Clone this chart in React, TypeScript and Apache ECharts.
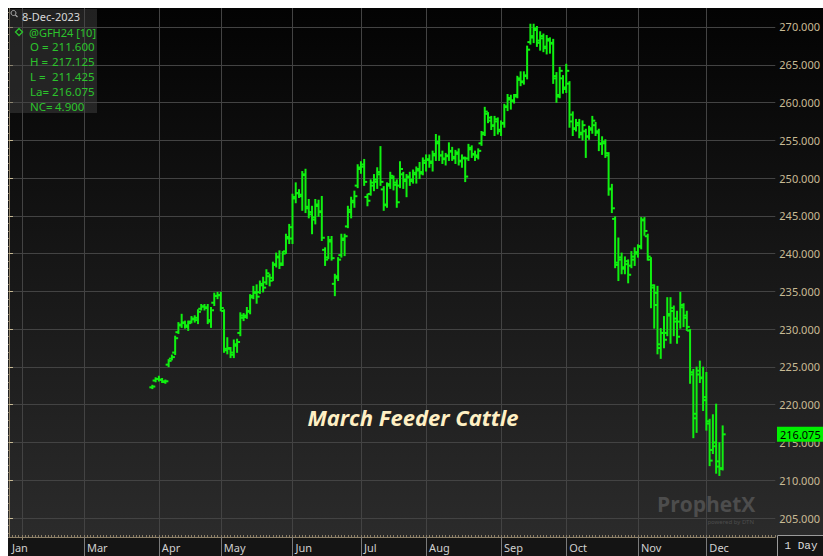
import React, { useEffect, useRef } from 'react';
import * as echarts from 'echarts';

// ---- data: daily OHLC bars (slot index = trading-day position on the axis) ----
const startIndex = 44;
const opens = [
  222.3, 223.2, 223.4, 223.3, 223.0, 225.3, 226.1, 226.9, 229.6, 230.6,
  230.9, 230.3, 231.0, 231.3, 231.2, 232.7, 233.0, 232.8, 231.0, 233.5,
  234.4, 234.5, 232.4, 227.2, 227.4, 226.6, 227.8, 229.5, 231.5, 231.8,
  232.3, 234.4, 234.8, 234.9, 235.8, 236.2, 237.0, 236.8, 238.6, 239.5,
  238.7, 240.3, 242.0, 242.0, 247.3, 248.0, 247.6, 250.4, 246.2, 245.5,
  244.5, 246.3, 245.5, 240.5, 239.5, 241.6, 236.0, 237.0, 239.8, 241.8,
  243.6, 245.5, 246.8, 249.0, 251.2, 251.8, 247.5, 247.9, 249.0, 249.5,
  250.5, 248.5, 246.5, 249.2, 250.0, 249.4, 249.0, 250.5, 249.8, 250.2,
  249.6, 250.5, 251.2, 250.8, 252.0, 252.5, 252.2, 253.0, 254.8, 253.0,
  252.5, 253.0, 253.6, 252.6, 253.2, 252.3, 252.6, 252.6, 253.8, 253.1,
  252.8, 254.6, 256.0, 258.5, 257.6, 257.0, 257.5, 256.2, 257.3, 259.5,
  260.4, 260.3, 261.0, 263.2, 262.7, 263.6, 268.0, 268.8, 269.6, 268.2,
  268.5, 267.4, 268.2, 267.8, 263.5, 261.0, 263.2, 262.0, 262.5, 258.4,
  256.6, 257.0, 256.0, 256.2, 255.5, 256.6, 257.0, 256.2, 254.5, 254.6,
  253.0, 248.5, 244.6, 238.5, 239.5, 238.0, 238.6, 238.4, 239.2, 240.0,
  241.0, 244.4, 242.3, 239.2, 235.5, 234.8, 228.0, 229.5, 229.5, 232.0,
  232.4, 231.4, 231.0, 232.9, 231.5, 229.8, 224.3, 218.8, 224.5, 223.6,
  221.0, 217.8, 214.0, 215.0, 212.5, 211.6,
];
const highs = [
  222.5, 223.5, 223.7, 223.4, 223.2, 225.9, 226.5, 229.0, 230.8, 231.9,
  231.0, 231.0, 231.6, 231.7, 232.5, 233.2, 233.2, 233.2, 232.8, 234.7,
  234.8, 234.8, 232.5, 228.8, 227.5, 228.5, 228.6, 232.1, 232.0, 232.8,
  234.5, 235.6, 235.8, 236.3, 236.8, 237.8, 237.2, 238.8, 240.0, 240.3,
  240.2, 242.5, 243.8, 247.8, 249.3, 248.4, 250.8, 251.1, 247.1, 246.2,
  247.1, 247.0, 247.5, 240.7, 242.2, 242.2, 237.2, 239.4, 242.5, 242.5,
  246.2, 247.4, 248.2, 251.7, 252.1, 252.4, 247.8, 249.7, 250.4, 251.3,
  254.1, 248.8, 249.3, 250.7, 250.2, 249.7, 252.1, 250.7, 250.4, 250.7,
  251.0, 251.4, 252.0, 252.6, 253.0, 253.0, 253.5, 255.7, 255.5, 253.5,
  253.2, 254.6, 254.0, 253.6, 253.8, 253.0, 252.7, 254.4, 254.2, 253.5,
  253.8, 256.1, 259.3, 258.6, 258.1, 258.1, 257.9, 257.5, 259.7, 261.0,
  260.9, 261.0, 263.4, 264.0, 264.0, 267.4, 270.3, 270.3, 270.0, 269.3,
  269.0, 268.8, 268.5, 268.3, 263.9, 264.6, 263.5, 265.0, 262.7, 258.7,
  257.7, 257.7, 257.5, 256.4, 256.8, 258.1, 257.3, 256.4, 255.4, 255.0,
  253.3, 249.1, 244.8, 242.0, 240.0, 239.5, 239.1, 240.2, 240.7, 241.1,
  244.7, 244.7, 242.5, 239.4, 235.8, 235.6, 230.0, 231.6, 234.1, 234.1,
  233.0, 232.3, 234.8, 233.3, 232.3, 229.9, 224.6, 224.9, 225.7, 224.9,
  224.2, 218.0, 218.6, 220.0, 214.9, 217.125,
];
const lows = [
  222.2, 223.1, 223.2, 223.0, 222.9, 225.1, 226.0, 226.7, 229.5, 230.3,
  230.2, 229.9, 230.9, 231.0, 230.8, 232.6, 232.6, 230.8, 230.3, 233.2,
  234.1, 232.5, 227.0, 226.8, 226.3, 226.3, 227.0, 229.2, 231.2, 231.5,
  232.1, 234.1, 233.5, 234.8, 235.0, 236.0, 235.8, 236.5, 238.3, 238.1,
  238.5, 240.1, 241.4, 241.4, 246.8, 247.5, 245.8, 245.5, 244.8, 242.7,
  244.0, 245.0, 241.8, 238.5, 239.4, 239.2, 234.5, 236.5, 239.6, 239.8,
  243.5, 244.8, 246.2, 248.8, 250.7, 249.1, 246.4, 247.8, 248.4, 248.7,
  249.1, 245.8, 246.2, 248.7, 248.5, 246.2, 248.8, 248.7, 247.6, 249.1,
  249.4, 249.4, 250.0, 250.5, 251.0, 251.5, 251.0, 252.4, 252.4, 252.0,
  251.8, 252.4, 252.4, 252.0, 251.8, 251.5, 249.6, 252.4, 252.8, 252.4,
  252.6, 254.4, 255.7, 257.4, 256.5, 255.7, 255.9, 255.7, 256.8, 259.0,
  259.2, 260.0, 260.7, 262.3, 262.5, 263.2, 267.8, 268.0, 267.5, 267.0,
  266.8, 266.5, 266.6, 262.6, 260.1, 260.7, 261.3, 261.4, 256.8, 255.7,
  256.3, 255.4, 255.1, 252.8, 255.2, 256.0, 255.7, 253.7, 253.2, 252.8,
  247.8, 245.5, 238.2, 236.5, 237.4, 237.4, 236.2, 238.2, 238.5, 239.6,
  240.7, 242.5, 239.2, 232.9, 230.2, 226.8, 226.2, 227.6, 229.2, 228.2,
  229.2, 228.2, 230.2, 230.4, 229.9, 222.9, 215.7, 216.4, 223.0, 219.3,
  216.7, 212.0, 213.6, 211.0, 210.7, 211.425,
];
const closes = [
  222.4, 223.4, 223.3, 223.1, 223.1, 225.8, 226.3, 228.8, 230.5, 230.8,
  230.5, 230.8, 231.4, 231.5, 232.3, 233.0, 232.9, 231.2, 232.5, 234.4,
  234.5, 232.8, 227.4, 227.5, 226.9, 228.0, 228.3, 231.8, 231.6, 232.4,
  234.2, 234.9, 234.3, 236.0, 235.5, 237.4, 236.4, 238.5, 239.6, 238.5,
  240.0, 242.2, 243.5, 247.5, 248.0, 247.8, 250.5, 246.0, 245.2, 244.8,
  246.5, 245.6, 242.1, 239.2, 241.8, 239.4, 236.8, 239.2, 242.0, 242.3,
  245.8, 247.0, 247.6, 251.4, 251.5, 249.5, 247.0, 249.4, 249.8, 250.8,
  249.5, 246.4, 249.0, 250.3, 249.1, 246.8, 251.2, 249.6, 250.1, 249.8,
  250.7, 251.0, 250.6, 252.3, 252.4, 252.0, 253.2, 254.6, 253.0, 252.6,
  252.9, 253.5, 252.8, 253.4, 252.2, 252.7, 250.2, 254.0, 253.2, 253.0,
  253.6, 255.8, 258.8, 258.0, 256.9, 257.8, 256.4, 257.2, 259.4, 260.6,
  260.2, 260.8, 263.0, 262.8, 263.5, 267.0, 268.6, 269.8, 267.9, 268.8,
  267.2, 268.4, 267.9, 263.2, 260.8, 264.2, 261.8, 264.2, 257.5, 256.5,
  257.3, 255.8, 257.0, 255.5, 256.4, 257.6, 256.0, 254.6, 254.8, 253.3,
  248.6, 246.0, 238.8, 239.2, 238.2, 239.0, 237.2, 239.6, 240.2, 240.9,
  244.5, 243.0, 239.6, 235.8, 233.2, 227.5, 229.5, 228.6, 231.8, 232.8,
  231.0, 229.0, 233.2, 231.8, 230.3, 224.0, 218.2, 224.0, 223.5, 220.6,
  217.5, 212.6, 214.5, 211.8, 211.5, 216.075,
];

// ---- axes ----
const slotCount = 236;
const monthTickIdx = [4, 23, 46, 65, 87, 108, 128, 151, 171, 193, 214];
const monthLabelIdx = [0, 23, 46, 65, 87, 108, 128, 151, 171, 193, 214];
const monthNames = ['Jan', 'Mar', 'Apr', 'May', 'Jun', 'Jul', 'Aug', 'Sep', 'Oct', 'Nov', 'Dec'];
const yMajorTicks = [205, 210, 215, 220, 225, 230, 235, 240, 245, 250, 255, 260, 265, 270];
const yMin = 202.485;
const yMax = 272.515;

// ---- texts ----
const infoDate = '8-Dec-2023';
const infoSymbol = '@GFH24 [10]';
const infoLabels = ['O =', 'H =', 'L =', 'La=', 'NC='];
const infoValues = ['211.600', '217.125', '211.425', '216.075', '4.900'];
const lastPrice = 216.075;
const chartTitle = 'March Feeder Cattle';
const periodText = '1 Day';

const TAN = '#c9bb95';
const AXIS_TAN = '#8d8068';
const GRID = '#434343';
const BAR = '#10f010';
const INFO_GREEN = '#2cc42c';
const FONT = '"Noto Sans", "Open Sans", sans-serif';

export default function App() {
  const ref = useRef<HTMLDivElement>(null);

  useEffect(() => {
    if (!ref.current) return;
    const chart = echarts.init(ref.current, null, { renderer: 'svg' });

    const data = opens.map((o, k) => [startIndex + k, o, highs[k], lows[k], closes[k]]);
    const slotTicks: number[] = [];
    for (let i = 0; i < slotCount; i++) slotTicks.push(i);
    const yMinor: number[] = [];
    for (let v = Math.ceil(yMin); v <= Math.floor(yMax); v++) yMinor.push(v);

    const textStyle = (fill: string, font: string, align = 'left') => ({
      fill,
      font,
      textAlign: align,
      align,
      textVerticalAlign: 'middle',
      verticalAlign: 'middle',
    });

    const infoFont = `11.5px ${FONT}`;
    const graphics: any[] = [
      { id: 'infoBox', type: 'rect', shape: { x: 1, y: 1, width: 88, height: 104 }, style: { fill: 'rgba(70,70,70,0.45)' }, z: 10 },
      { id: 'mag1', type: 'circle', shape: { cx: 5.5, cy: 5, r: 2.5 }, style: { fill: 'none', stroke: '#aaa', lineWidth: 1 }, z: 11 },
      { id: 'mag2', type: 'line', shape: { x1: 7.3, y1: 6.8, x2: 9.5, y2: 9 }, style: { stroke: '#aaa', lineWidth: 1.2 }, z: 11 },
      { id: 'date', type: 'text', x: 14, y: 8, style: { text: infoDate, ...textStyle('#d8d8d8', `11px ${FONT}`) }, z: 11 },
      { id: 'diamond', type: 'polygon', shape: { points: [[11, 20.5], [14.5, 24], [11, 27.5], [7.5, 24]] }, style: { fill: 'none', stroke: INFO_GREEN, lineWidth: 1.3 }, z: 11 },
      { id: 'sym', type: 'text', x: 21, y: 24, style: { text: infoSymbol, ...textStyle(INFO_GREEN, `11px ${FONT}`) }, z: 11 },
      ...infoLabels.map((t, k) => ({
        id: 'infoL' + k,
        type: 'text',
        x: 22,
        y: 38.5 + k * 15,
        style: { text: t, ...textStyle(INFO_GREEN, infoFont) },
        z: 11,
      })),
      ...infoValues.map((t, k) => ({
        id: 'infoV' + k,
        type: 'text',
        x: k === 4 ? 47 : 44,
        y: 38.5 + k * 15,
        style: { text: t, ...textStyle(INFO_GREEN, infoFont) },
        z: 11,
      })),
      {
        id: 'title',
        type: 'text',
        x: 405,
        y: 409,
        style: {
          text: chartTitle,
          ...textStyle('#fff0c4', `italic bold 22px "Open Sans", sans-serif`, 'center'),
          shadowColor: 'rgba(0,0,0,0.9)',
          shadowOffsetX: 1,
          shadowOffsetY: 1,
          shadowBlur: 1,
        },
        z: 12,
      },
      {
        id: 'wm',
        type: 'text',
        x: 649,
        y: 496,
        style: { text: 'ProphetX', ...textStyle('#4d4d4d', `bold 21px "Open Sans", sans-serif`, 'left') },
        z: 1,
      },
      {
        id: 'wm2',
        type: 'text',
        x: 746,
        y: 514,
        style: { text: 'powered by DTN', ...textStyle('#4d4d4d', `6px ${FONT}`, 'right') },
        z: 1,
      },
      { id: 'dayBox', type: 'rect', shape: { x: 769.5, y: 527.5, width: 46, height: 21 }, style: { fill: '#141414', stroke: '#9a9a9a', lineWidth: 1 }, z: 12 },
      { id: 'dayText', type: 'text', x: 793, y: 538, style: { text: periodText, ...textStyle('#dddddd', `11px "Liberation Mono", monospace`, 'center') }, z: 13 },
    ];

    chart.setOption({
      animation: false,
      backgroundColor: 'transparent',
      grid: { left: 0, right: 47, top: 0, bottom: 19, containLabel: false },
      xAxis: [
        {
          type: 'value',
          position: 'bottom',
          min: -0.29,
          max: 235.15,
          axisLine: { show: true, lineStyle: { color: AXIS_TAN, width: 1 } },
          axisTick: { show: true, customValues: monthTickIdx, length: 3, lineStyle: { color: AXIS_TAN } },
          axisLabel: { show: false },
          splitLine: { show: true, lineStyle: { color: GRID, width: 1 } },
        },
        {
          type: 'value',
          position: 'bottom',
          min: -0.29,
          max: 235.15,
          axisLine: { show: false },
          axisTick: { show: true, customValues: monthTickIdx.slice(1), length: 19, lineStyle: { color: '#7a7a7a' } },
          axisLabel: {
            show: true,
            customValues: monthLabelIdx,
            formatter: (v: number) => monthNames[monthLabelIdx.indexOf(Math.round(v))] || '',
            align: 'left',
            padding: [0, 0, 0, 3],
            margin: 5,
            color: '#d0d0d0',
            fontSize: 11,
            fontFamily: FONT,
          },
          splitLine: { show: false },
        },
        {
          type: 'value',
          position: 'bottom',
          min: -0.29,
          max: 235.15,
          axisLine: { show: false },
          axisTick: { show: true, customValues: slotTicks, inside: true, length: 2, lineStyle: { color: AXIS_TAN } },
          axisLabel: { show: false },
          splitLine: { show: false },
        },
      ],
      yAxis: [
        {
          type: 'value',
          position: 'right',
          min: yMin,
          max: yMax,
          axisLine: { show: true, lineStyle: { color: AXIS_TAN, width: 1 } },
          axisTick: { show: true, customValues: yMajorTicks, length: 4, lineStyle: { color: TAN } },
          axisLabel: {
            show: true,
            customValues: yMajorTicks,
            formatter: (v: number) => v.toFixed(3),
            color: TAN,
            fontSize: 11,
            fontFamily: FONT,
            margin: 4,
          },
          splitLine: { show: true, lineStyle: { color: GRID, width: 1 } },
        },
        {
          type: 'value',
          position: 'right',
          min: yMin,
          max: yMax,
          axisLine: { show: false },
          axisTick: { show: true, customValues: yMinor, inside: true, length: 5, lineStyle: { color: AXIS_TAN } },
          axisLabel: { show: false },
          splitLine: { show: false },
        },
      ],
      series: [
        {
          type: 'custom',
          xAxisIndex: 0,
          yAxisIndex: 0,
          data,
          encode: { x: 0, y: [1, 2, 3, 4] },
          clip: true,
          renderItem: (_params: any, api: any) => {
            const x = api.value(0);
            const o = api.coord([x, api.value(1)]);
            const h = api.coord([x, api.value(2)]);
            const l = api.coord([x, api.value(3)]);
            const c = api.coord([x, api.value(4)]);
            const w = 3;
            const style = { stroke: BAR, lineWidth: 2, fill: 'none' };
            return {
              type: 'group',
              children: [
                { type: 'line', shape: { x1: h[0], y1: h[1] - 1, x2: l[0], y2: l[1] + 1 }, style },
                { type: 'line', shape: { x1: o[0] - w, y1: o[1], x2: o[0], y2: o[1] }, style },
                { type: 'line', shape: { x1: c[0], y1: c[1], x2: c[0] + w, y2: c[1] }, style },
              ],
            };
          },
        },
      ],
      graphic: { elements: graphics },
    });

    const py = chart.convertToPixel({ yAxisIndex: 0 }, lastPrice) as number;
    chart.setOption({
      graphic: {
        elements: [
          ...graphics,
          { id: 'tagBox', type: 'rect', shape: { x: 769, y: py - 7.5, width: 47, height: 15 }, style: { fill: '#00f000' }, z: 14 },
          { id: 'tagText', type: 'text', x: 772, y: py, style: { text: lastPrice.toFixed(3), ...textStyle('#000000', `11px ${FONT}`) }, z: 15 },
        ],
      },
    });

    return () => chart.dispose();
  }, []);

  return (
    <div
      ref={ref}
      style={{
        position: 'fixed',
        left: 8,
        top: 8,
        width: 815,
        height: 548,
        background: 'linear-gradient(to bottom, #030303 0px, #2b2b2b 529px, #141414 529px, #141414 548px)',
        overflow: 'hidden',
      }}
    />
  );
}
